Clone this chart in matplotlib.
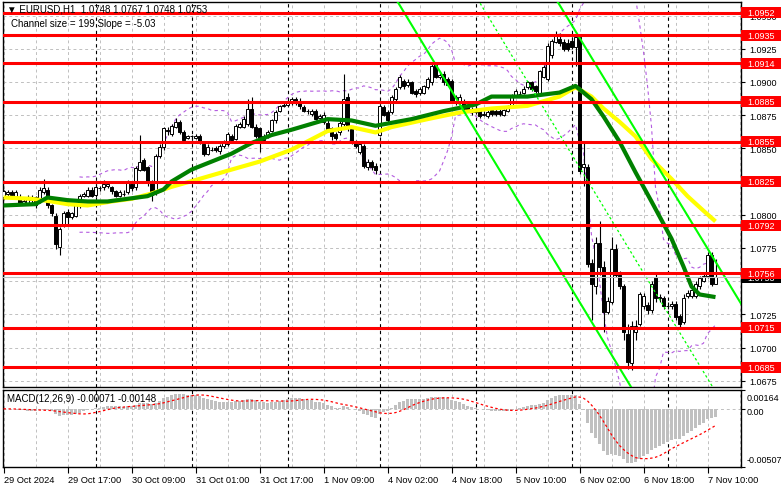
import numpy as np
import pandas as pd
import matplotlib
matplotlib.use("Agg")
import matplotlib.pyplot as plt
from matplotlib import transforms
from matplotlib.patches import Rectangle

# 데이터 (EURUSD H1, 29 Oct 01:00 ~ 7 Nov 12:00)
opens = [1.0813, 1.0816, 1.0817, 1.0813, 1.0813, 1.0808, 1.0808, 1.0811, 1.0813, 1.0810,
         1.0817, 1.0819, 1.0807, 1.0799, 1.0776, 1.0793, 1.0802, 1.0798, 1.0799, 1.0807,
         1.0814, 1.0814, 1.0819, 1.0815, 1.0820, 1.0821, 1.0822, 1.0821, 1.0818, 1.0814,
         1.0816, 1.0817, 1.0823, 1.0821, 1.0834, 1.0841, 1.0836, 1.0825, 1.0817, 1.0844,
         1.0851, 1.0864, 1.0861, 1.0866, 1.0870, 1.0862, 1.0858, 1.0859, 1.0858, 1.0859,
         1.0853, 1.0846, 1.0849, 1.0850, 1.0848, 1.0852, 1.0853, 1.0859, 1.0857, 1.0866,
         1.0866, 1.0868, 1.0880, 1.0866, 1.0865, 1.0856, 1.0859, 1.0863, 1.0871, 1.0878,
         1.0882, 1.0883, 1.0885, 1.0887, 1.0886, 1.0881, 1.0878, 1.0876, 1.0878, 1.0873,
         1.0870, 1.0869, 1.0865, 1.0861, 1.0862, 1.0868, 1.0889, 1.0865, 1.0855, 1.0847,
         1.0852, 1.0836, 1.0840, 1.0837, 1.0860, 1.0881, 1.0877, 1.0877, 1.0887, 1.0896,
         1.0901, 1.0898, 1.0900, 1.0893, 1.0892, 1.0892, 1.0896, 1.0900, 1.0914, 1.0904,
         1.0906, 1.0902, 1.0901, 1.0885, 1.0886, 1.0886, 1.0881, 1.0880, 1.0877, 1.0879,
         1.0875, 1.0874, 1.0879, 1.0878, 1.0878, 1.0875, 1.0878, 1.0883, 1.0890, 1.0891,
         1.0892, 1.0896, 1.0900, 1.0897, 1.0892, 1.0904, 1.0902, 1.0920, 1.0930, 1.0932,
         1.0930, 1.0929, 1.0931, 1.0926, 1.0934, 1.0836, 1.0836, 1.0764, 1.0746, 1.0779,
         1.0761, 1.0727, 1.0734, 1.0774, 1.0755, 1.0746, 1.0710, 1.0688, 1.0712, 1.0718,
         1.0731, 1.0732, 1.0728, 1.0753, 1.0738, 1.0737, 1.0731, 1.0731, 1.0733, 1.0724,
         1.0719, 1.0739, 1.0739, 1.0739, 1.0746, 1.0750, 1.0754, 1.0770, 1.0748]
highs = [1.0819, 1.0819, 1.0819, 1.0819, 1.0816, 1.0812, 1.0815, 1.0815, 1.0814, 1.0821,
         1.0827, 1.0821, 1.0808, 1.0801, 1.0791, 1.0803, 1.0804, 1.0802, 1.0808, 1.0816,
         1.0817, 1.0821, 1.0821, 1.0823, 1.0822, 1.0826, 1.0825, 1.0822, 1.0819, 1.0819,
         1.0819, 1.0826, 1.0825, 1.0837, 1.0860, 1.0843, 1.0837, 1.0826, 1.0846, 1.0853,
         1.0866, 1.0866, 1.0868, 1.0873, 1.0871, 1.0864, 1.0860, 1.0860, 1.0861, 1.0861,
         1.0855, 1.0853, 1.0851, 1.0852, 1.0853, 1.0856, 1.0862, 1.0861, 1.0868, 1.0870,
         1.0874, 1.0887, 1.0889, 1.0868, 1.0866, 1.0861, 1.0864, 1.0872, 1.0879, 1.0883,
         1.0885, 1.0887, 1.0889, 1.0889, 1.0888, 1.0883, 1.0880, 1.0880, 1.0880, 1.0876,
         1.0877, 1.0871, 1.0866, 1.0862, 1.0871, 1.0906, 1.0892, 1.0866, 1.0856, 1.0855,
         1.0853, 1.0842, 1.0841, 1.0839, 1.0883, 1.0883, 1.0879, 1.0890, 1.0896, 1.0905,
         1.0902, 1.0902, 1.0901, 1.0895, 1.0896, 1.0898, 1.0904, 1.0914, 1.0915, 1.0908,
         1.0908, 1.0904, 1.0902, 1.0890, 1.0891, 1.0887, 1.0883, 1.0881, 1.0882, 1.0880,
         1.0878, 1.0879, 1.0880, 1.0880, 1.0880, 1.0880, 1.0883, 1.0891, 1.0895, 1.0893,
         1.0897, 1.0901, 1.0901, 1.0898, 1.0909, 1.0913, 1.0929, 1.0932, 1.0938, 1.0937,
         1.0932, 1.0932, 1.0934, 1.0935, 1.0935, 1.0855, 1.0838, 1.0767, 1.0783, 1.0795,
         1.0765, 1.0738, 1.0783, 1.0778, 1.0758, 1.0748, 1.0718, 1.0720, 1.0721, 1.0742,
         1.0741, 1.0734, 1.0750, 1.0756, 1.0740, 1.0739, 1.0734, 1.0735, 1.0735, 1.0725,
         1.0740, 1.0743, 1.0745, 1.0750, 1.0754, 1.0756, 1.0772, 1.0772, 1.0767]
lows = [1.0812, 1.0813, 1.0813, 1.0812, 1.0807, 1.0807, 1.0807, 1.0809, 1.0805, 1.0809,
        1.0816, 1.0805, 1.0799, 1.0774, 1.0770, 1.0791, 1.0793, 1.0797, 1.0798, 1.0805,
        1.0813, 1.0813, 1.0813, 1.0813, 1.0818, 1.0819, 1.0820, 1.0816, 1.0813, 1.0813,
        1.0814, 1.0816, 1.0818, 1.0819, 1.0833, 1.0833, 1.0822, 1.0810, 1.0815, 1.0843,
        1.0849, 1.0860, 1.0859, 1.0865, 1.0861, 1.0854, 1.0857, 1.0857, 1.0857, 1.0853,
        1.0844, 1.0845, 1.0848, 1.0847, 1.0846, 1.0850, 1.0852, 1.0854, 1.0856, 1.0865,
        1.0865, 1.0867, 1.0865, 1.0858, 1.0847, 1.0854, 1.0858, 1.0862, 1.0869, 1.0877,
        1.0881, 1.0882, 1.0883, 1.0883, 1.0880, 1.0877, 1.0876, 1.0874, 1.0871, 1.0872,
        1.0868, 1.0862, 1.0856, 1.0856, 1.0860, 1.0867, 1.0863, 1.0853, 1.0850, 1.0846,
        1.0835, 1.0834, 1.0834, 1.0831, 1.0859, 1.0874, 1.0869, 1.0876, 1.0886, 1.0895,
        1.0895, 1.0896, 1.0891, 1.0889, 1.0890, 1.0891, 1.0895, 1.0898, 1.0903, 1.0902,
        1.0898, 1.0897, 1.0884, 1.0883, 1.0884, 1.0878, 1.0877, 1.0875, 1.0876, 1.0873,
        1.0874, 1.0873, 1.0874, 1.0874, 1.0874, 1.0874, 1.0877, 1.0882, 1.0889, 1.0889,
        1.0891, 1.0895, 1.0893, 1.0892, 1.0891, 1.0903, 1.0901, 1.0918, 1.0929, 1.0927,
        1.0923, 1.0923, 1.0925, 1.0912, 1.0831, 1.0822, 1.0761, 1.0721, 1.0740, 1.0755,
        1.0712, 1.0725, 1.0733, 1.0753, 1.0744, 1.0706, 1.0684, 1.0683, 1.0706, 1.0716,
        1.0729, 1.0725, 1.0726, 1.0734, 1.0734, 1.0729, 1.0729, 1.0729, 1.0721, 1.0714,
        1.0718, 1.0737, 1.0737, 1.0737, 1.0744, 1.0749, 1.0752, 1.0746, 1.0748]
closes = [1.0818, 1.0817, 1.0815, 1.0817, 1.0808, 1.0810, 1.0813, 1.0813, 1.0807, 1.0819,
          1.0820, 1.0807, 1.0801, 1.0778, 1.0789, 1.0801, 1.0798, 1.0801, 1.0807, 1.0814,
          1.0816, 1.0819, 1.0814, 1.0821, 1.0820, 1.0823, 1.0823, 1.0818, 1.0814, 1.0817,
          1.0816, 1.0824, 1.0820, 1.0835, 1.0840, 1.0834, 1.0825, 1.0815, 1.0844, 1.0851,
          1.0865, 1.0863, 1.0867, 1.0870, 1.0862, 1.0856, 1.0859, 1.0859, 1.0859, 1.0855,
          1.0846, 1.0851, 1.0849, 1.0849, 1.0852, 1.0855, 1.0861, 1.0856, 1.0867, 1.0868,
          1.0872, 1.0880, 1.0866, 1.0859, 1.0856, 1.0859, 1.0862, 1.0871, 1.0877, 1.0882,
          1.0883, 1.0886, 1.0887, 1.0886, 1.0882, 1.0878, 1.0878, 1.0878, 1.0872, 1.0874,
          1.0875, 1.0863, 1.0859, 1.0858, 1.0869, 1.0887, 1.0865, 1.0855, 1.0852, 1.0853,
          1.0837, 1.0840, 1.0836, 1.0834, 1.0882, 1.0875, 1.0871, 1.0889, 1.0895, 1.0904,
          1.0897, 1.0900, 1.0892, 1.0891, 1.0895, 1.0897, 1.0902, 1.0912, 1.0904, 1.0905,
          1.0900, 1.0898, 1.0886, 1.0889, 1.0889, 1.0880, 1.0878, 1.0877, 1.0880, 1.0874,
          1.0876, 1.0877, 1.0876, 1.0876, 1.0876, 1.0879, 1.0882, 1.0889, 1.0893, 1.0891,
          1.0895, 1.0900, 1.0895, 1.0893, 1.0908, 1.0911, 1.0927, 1.0931, 1.0936, 1.0929,
          1.0925, 1.0925, 1.0926, 1.0934, 1.0833, 1.0838, 1.0763, 1.0748, 1.0779, 1.0761,
          1.0727, 1.0735, 1.0774, 1.0755, 1.0746, 1.0712, 1.0689, 1.0716, 1.0716, 1.0740,
          1.0739, 1.0728, 1.0748, 1.0737, 1.0737, 1.0731, 1.0731, 1.0733, 1.0723, 1.0718,
          1.0737, 1.0741, 1.0743, 1.0748, 1.0752, 1.0754, 1.0770, 1.0748, 1.0753]

# 이동평균선
ma_green_bar = [0, 8, 11, 16, 21, 26, 31, 36, 40, 42, 47, 52, 57, 62, 67, 72, 81, 87, 93,
                102, 110, 118, 122, 131, 139, 143, 147, 150, 154, 158, 162, 167, 170, 172,
                174, 176, 178]
ma_green = [1.0807, 1.0808, 1.0813, 1.0811, 1.0810, 1.0810, 1.0812, 1.0814, 1.0819, 1.0825,
            1.0834, 1.0840, 1.0846, 1.0854, 1.0860, 1.0864, 1.0872, 1.0871, 1.0867,
            1.0872, 1.0878, 1.0883, 1.0889, 1.0889, 1.0892, 1.0897, 1.0887, 1.0874,
            1.0855, 1.0832, 1.0810, 1.0782, 1.0761, 1.0746, 1.0740, 1.0739, 1.0738]
ma_yellow_bar = [0, 7, 12, 16, 21, 27, 32, 37, 42, 49, 57, 64, 72, 81, 87, 93, 97, 106,
                 114, 122, 131, 139, 143, 147, 150, 154, 158, 162, 167, 171, 175, 178]
ma_yellow = [1.0813, 1.0812, 1.0810, 1.0808, 1.0807, 1.0810, 1.0812, 1.0816, 1.0821, 1.0827,
             1.0834, 1.0840, 1.0849, 1.0863, 1.0866, 1.0862, 1.0866, 1.0872, 1.0877,
             1.0880, 1.0882, 1.0889, 1.0896, 1.0889, 1.0880, 1.0870, 1.0859, 1.0842,
             1.0827, 1.0814, 1.0803, 1.0795]

# 지지/저항 레벨
levels = [1.0952, 1.0935, 1.0914, 1.0885, 1.0855, 1.0825, 1.0792, 1.0756, 1.0715, 1.0685]
last_price = 1.0753

# 채널 (Channel size = 199, Slope = -5.03)
chan_upper_bar, chan_upper = [138, 185], [1.0963, 1.0730]
chan_mid_bar, chan_mid = [118, 185], [1.0965, 1.0632]
chan_lower_bar, chan_lower = [98, 165], [1.0963, 1.0630]

price_ticks = [1.0675, 1.0700, 1.0725, 1.0775, 1.0800, 1.0850, 1.0875, 1.0900, 1.0925, 1.0950]
grid_prices = [1.0675, 1.0700, 1.0725, 1.0750, 1.0775, 1.0800, 1.0825, 1.0850, 1.0875,
               1.0900, 1.0925, 1.0950]
tick_bars = [0, 16, 32, 48, 64, 80, 96, 112, 128, 144, 160, 176]
tick_labels = ["29 Oct 2024", "29 Oct 17:00", "30 Oct 09:00", "31 Oct 01:00", "31 Oct 17:00",
               "1 Nov 09:00", "4 Nov 02:00", "4 Nov 18:00", "5 Nov 10:00", "6 Nov 02:00",
               "6 Nov 18:00", "7 Nov 10:00"]
day_starts = [23, 47, 71, 94, 118, 142, 166]

plt.rcParams['font.family'] = ['Liberation Sans', 'DejaVu Sans']

W, H = 781, 489
fig = plt.figure(figsize=(W / 100, H / 100), dpi=100)
ax = fig.add_axes([3 / W, 1 - 388 / H, 738 / W, 385 / H])
axm = fig.add_axes([3 / W, 1 - 468 / H, 738 / W, 77 / H])

n = len(closes)
idx = np.arange(n)
o = np.array(opens); c = np.array(closes); hi = np.array(highs); lo = np.array(lows)
xlim = (-0.125, 184.375)

grid_kw = dict(color='#c0c0c0', lw=0.7, ls=(0, (3, 3)), zorder=0)
sep_kw = dict(color='black', lw=0.8, ls=(0, (3, 3)), zorder=1)

# 메인 차트
for a in (ax, axm):
    a.set_xlim(*xlim)
    for b in range(0, 185, 8):
        a.axvline(b, **grid_kw)
    for d in day_starts:
        a.axvline(d, **sep_kw)
    for s in a.spines.values():
        s.set_linewidth(1.0)

for p in grid_prices:
    ax.axhline(p, **grid_kw)

# 볼린저 밴드
cs = pd.Series(closes)
mid = cs.rolling(20).mean()
sd = cs.rolling(20).std(ddof=0)
bb_kw = dict(color='#b45ce0', lw=0.8, ls=(0, (3, 3)), zorder=2)
ax.plot(idx, mid + 2 * sd, **bb_kw)
ax.plot(idx, mid - 2 * sd, **bb_kw)

# 캔들
ax.vlines(idx, lo, hi, color='black', lw=0.8, zorder=3)
face = np.where(c >= o, 'white', 'black')
ax.bar(idx, np.abs(c - o), bottom=np.minimum(o, c), width=0.7, color=face,
       edgecolor='black', linewidth=0.7, zorder=4)

# 이동평균
ax.plot(ma_yellow_bar, ma_yellow, color='#ffff00', lw=3, solid_capstyle='butt', zorder=5)
ax.plot(ma_green_bar, ma_green, color='#008000', lw=3, solid_capstyle='butt', zorder=5.5)

# 채널
ax.plot(chan_upper_bar, chan_upper, color='#00ff00', lw=1.5, zorder=6)
ax.plot(chan_lower_bar, chan_lower, color='#00ff00', lw=1.5, zorder=6)
ax.plot(chan_mid_bar, chan_mid, color='#00ff00', lw=0.9, ls=(0, (2, 2)), zorder=6)

ax.axhline(last_price, color='#c0c0c0', lw=0.8, zorder=6)
for p in levels:
    ax.axhline(p, color='#ff0000', lw=2.2, zorder=7)

ax.set_ylim(1.06703, 1.09602)
ax.yaxis.tick_right()
ax.set_yticks(price_ticks)
ax.set_yticklabels(['%.4f' % v for v in price_ticks])
ax.tick_params(axis='y', direction='out', length=3, labelsize=6.5, pad=3)
ax.tick_params(axis='x', bottom=False, labelbottom=False)

# 가격 라벨 박스
trans = transforms.blended_transform_factory(fig.transFigure, ax.transData)
bh = 11 * 0.0000753
fig.add_artist(Rectangle((741 / W, last_price - bh / 2), 40 / W, bh, transform=trans,
                         facecolor='black', edgecolor='none', zorder=10))
fig.text(747 / W, last_price, '%.4f' % last_price, transform=trans, color='white',
         fontsize=6.5, va='center', ha='left', zorder=11)
for p in levels:
    fig.add_artist(Rectangle((741 / W, p - bh / 2), 40 / W, bh, transform=trans,
                             facecolor='#ff0000', edgecolor='none', zorder=12))
    fig.text(747 / W, p, '%.4f' % p, transform=trans, color='white',
             fontsize=6.5, va='center', ha='left', zorder=13)

fig.text(7 / W, 1 - 10 / H, '▼ EURUSD,H1  1.0748 1.0767 1.0748 1.0753', fontsize=7,
         va='center', ha='left', zorder=14)
fig.text(11 / W, 1 - 24 / H, 'Channel size = 199 Slope = -5.03', fontsize=7,
         va='center', ha='left', zorder=14)

# MACD
ema12 = cs.ewm(span=12, adjust=False).mean()
ema26 = cs.ewm(span=26, adjust=False).mean()
macd = ema12 - ema26
signal = macd.rolling(9, min_periods=1).mean()
axm.axhline(0, **grid_kw)
axm.bar(idx, macd, width=0.7, color='#c0c0c0', zorder=3)
axm.plot(idx, signal, color='#ff0000', lw=0.9, ls=(0, (2, 2)), zorder=4)
axm.set_ylim(-0.00507, 0.00164)
axm.yaxis.tick_right()
axm.set_yticks([-0.00507, 0, 0.00164])
axm.set_yticklabels([])
axm.tick_params(axis='y', direction='out', length=3)

transm = transforms.blended_transform_factory(fig.transFigure, axm.transAxes)
fig.text(747 / W, 0.90, '0.00164', transform=transm, fontsize=6.5, va='center', ha='left')
fig.text(747 / W, 0.00507 / 0.00671 - 0.03, '0.00', transform=transm, fontsize=6.5,
         va='center', ha='left')
fig.text(747 / W, 0.091, '-0.00507', transform=transm, fontsize=6.5, va='center', ha='left')
fig.text(7 / W, 1 - 399 / H, 'MACD(12,26,9) -0.00071 -0.00148', fontsize=7,
         va='center', ha='left', zorder=14)

axm.set_xticks(tick_bars)
axm.set_xticklabels(tick_labels, ha='left', fontsize=6.7)
axm.tick_params(axis='x', direction='out', length=4, pad=1.5)

fig.savefig('out.png', dpi=100, facecolor='white')
